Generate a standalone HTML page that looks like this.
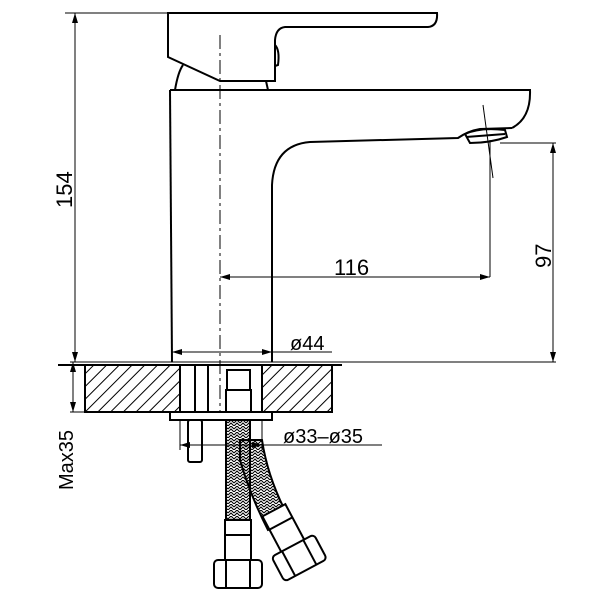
<!DOCTYPE html>
<html><head><meta charset="utf-8"><style>
html,body{margin:0;padding:0;background:#fff}
svg{display:block}
text{font-family:"Liberation Sans",sans-serif;fill:#000}
</style></head><body>
<svg width="600" height="600" viewBox="0 0 600 600" xmlns="http://www.w3.org/2000/svg">
<defs>
<pattern id="h" width="9" height="9" patternUnits="userSpaceOnUse" patternTransform="rotate(45)">
<line x1="0" y1="0" x2="0" y2="9" stroke="#000" stroke-width="2"/>
</pattern>
<pattern id="br" width="6" height="6" patternUnits="userSpaceOnUse">
<path d="M0 3 L3 0 L6 3 M0 6 L3 3 L6 6" fill="none" stroke="#000" stroke-width="1.1"/>
</pattern>
</defs>
<g fill="none" stroke="#000" stroke-width="2">
<path d="M168 13 H437 Q438 26 428 27 H285 Q276 28 275 40 V81 H220 L168 57 Z"/>
<path d="M275 45 Q280 50 278 65 L275 66"/>
<path d="M175 90 Q178 72 183 65"/>
<path d="M266 81 L268 90"/>
<path d="M170 90 H530 Q531 118 512 128"/>
<path d="M170 90 L172 362"/>
<path d="M272 362 V185 Q274 145 310 142 L458 138 Q468 131 480 129 L512 128"/>
<path d="M465 134 Q480 127 505 130 L507 137 Q490 143 470 143 Z"/>
<line x1="466" y1="137" x2="505" y2="134"/>
</g>
<g stroke="#000" stroke-width="1" fill="none">
<line x1="483" y1="105" x2="493" y2="178"/>
<line x1="220" y1="35" x2="220" y2="412" stroke-dasharray="14 4 3 4"/>
<line x1="65" y1="13" x2="168" y2="13"/>
<line x1="75" y1="13" x2="75" y2="362"/>
<line x1="70" y1="362" x2="556" y2="362"/>
<line x1="500" y1="143" x2="556" y2="143"/>
<line x1="553" y1="143" x2="553" y2="362"/>
<line x1="490" y1="140" x2="490" y2="277"/>
<line x1="220" y1="277" x2="490" y2="277"/>
<line x1="172" y1="352" x2="332" y2="352"/>
<line x1="73" y1="362" x2="73" y2="412"/>
<line x1="70" y1="412" x2="170" y2="412"/>
<line x1="180" y1="445" x2="382" y2="445"/>
<line x1="180" y1="420" x2="180" y2="450"/>
<line x1="262" y1="420" x2="262" y2="450"/>
</g>
<g fill="#000">
<path d="M75 13 l-3 10 h6z"/><path d="M75 362 l-3 -10 h6z"/>
<path d="M553 143 l-3 10 h6z"/><path d="M553 362 l-3 -10 h6z"/>
<path d="M220 277 l10 -3 v6z"/><path d="M490 277 l-10 -3 v6z"/>
<path d="M172 352 l10 -3 v6z"/><path d="M272 352 l-10 -3 v6z"/>
<path d="M73 362 l-3 10 h6z"/><path d="M73 412 l-3 -10 h6z"/>
<path d="M180 445 l10 -3 v6z"/><path d="M262 445 l-10 -3 v6z"/>
</g>
<rect x="85" y="365" width="95" height="47" fill="url(#h)"/>
<rect x="262" y="365" width="70" height="47" fill="url(#h)"/>
<g fill="none" stroke="#000" stroke-width="2">
<path d="M85 365 V412 H180 M262 412 H332 V365 M58 365 H342"/>
<line x1="180" y1="365" x2="180" y2="412"/>
<line x1="262" y1="365" x2="262" y2="412"/>
<line x1="195" y1="365" x2="195" y2="412"/>
<line x1="208" y1="365" x2="208" y2="412"/>
<rect x="227" y="370" width="23" height="20"/>
<rect x="226" y="390" width="25" height="22"/>
<rect x="170" y="412" width="102" height="8"/>
<rect x="188" y="420" width="14" height="42" rx="2"/>
</g>
<rect x="226" y="420" width="24" height="100" fill="url(#br)" stroke="#000" stroke-width="2"/>
<path d="M240 440 L262 440 Q268 480 290 520 L268 530 Q250 495 240 460 Z" fill="url(#br)" stroke="#000" stroke-width="2"/>
<g fill="#fff" stroke="#000" stroke-width="2">
<rect x="225" y="520" width="26" height="42"/>
<line x1="225" y1="535" x2="251" y2="535"/>
<rect x="214" y="560" width="48" height="28" rx="4"/>
<line x1="226" y1="560" x2="226" y2="588"/><line x1="250" y1="560" x2="250" y2="588"/>
<g transform="rotate(-28 295 550)">
<rect x="282" y="505" width="26" height="42"/>
<line x1="282" y1="520" x2="308" y2="520"/>
<rect x="271" y="545" width="48" height="28" rx="4"/>
<line x1="283" y1="545" x2="283" y2="573"/><line x1="307" y1="545" x2="307" y2="573"/>
</g>
</g>
<text x="0" y="0" font-size="22" transform="translate(72 208) rotate(-90)">154</text>
<text x="0" y="0" font-size="22" transform="translate(551 268) rotate(-90)">97</text>
<text x="0" y="0" font-size="20" transform="translate(73 490) rotate(-90)">Max35</text>
<text x="334" y="275" font-size="22">116</text>
<text x="290" y="350" font-size="20">ø44</text>
<text x="283" y="443" font-size="20">ø33–ø35</text>
</svg>
</body></html>
